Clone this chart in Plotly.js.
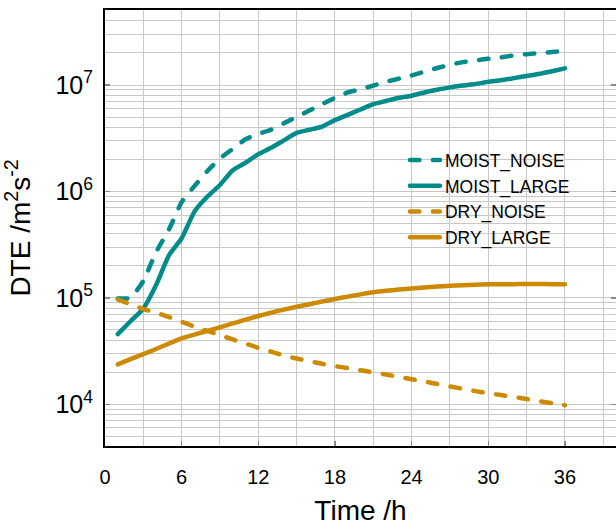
<!DOCTYPE html>
<html>
<head>
<meta charset="utf-8">
<script src="https://cdn.plot.ly/plotly-3.0.1.min.js"></script>
<style>
  html, body { margin: 0; padding: 0; background: #fff; }
  #chart { width: 616px; height: 526px; }
  .scatterlayer .js-line, .legend .js-line { stroke-linecap: round !important; stroke-linejoin: round !important; }
</style>
</head>
<body>
<div id="chart"></div>
<script>
// Forecast lead time (hours)
const hours = [1,2,3,4,5,6,7,8,9,10,11,12,13,14,15,16,17,18,19,20,21,22,23,24,25,26,27,28,29,30,31,32,33,34,35,36];

// Difference total energy, m^2 s^-2
const moistNoise = [98900,100000,144500,269000,437000,794000,1122000,1549000,2040000,2510000,3090000,3470000,
  3800000,4370000,5010000,5750000,6610000,7590000,8510000,9120000,9890000,10720000,11480000,12300000,
  13340000,14450000,15490000,16410000,17060000,17620000,18200000,18970000,19500000,19950000,20420000,20890000];
const moistLarge = [45700,60300,79400,131800,251000,363000,646000,891000,1150000,1580000,1860000,2240000,
  2570000,3020000,3550000,3800000,4070000,4680000,5250000,5890000,6610000,7080000,7590000,7940000,
  8510000,9020000,9510000,9890000,10230000,10720000,11090000,11610000,12160000,12740000,13490000,14350000];
const dryNoise = [96600,87100,78500,72400,66100,59600,53700,49000,44700,40700,37200,33900,
  31300,28700,26900,25400,24000,22800,21900,20900,19950,19050,18100,17200,
  16400,15500,14700,14000,13300,12700,12200,11750,11200,10700,10230,9800];
const dryLarge = [23700,26600,29600,33100,37200,41600,45200,48800,52800,57500,62400,67500,
  72400,77600,82400,87100,92300,97500,102800,107900,112700,116400,119700,122700,
  125300,127600,130000,131500,132700,134000,134300,134600,134900,134900,134600,134300];

const seriesNames = ['MOIST_NOISE', 'MOIST_LARGE', 'DRY_NOISE', 'DRY_LARGE'];
const xTickVals = [0, 6, 12, 18, 24, 30, 36];

const teal = '#008b8b';
const gold = '#cc8a00';
const dashed = '9.5px,13.5px';
const FONT = 'Liberation Sans, Arial, sans-serif';

function trace(name, y, color, dash) {
  return {
    x: hours, y: y, name: name, type: 'scatter', mode: 'lines',
    line: { color: color, width: 4.5, dash: dash, shape: 'spline', smoothing: 0.5 }
  };
}

const data = [
  trace(seriesNames[0], moistNoise, teal, dashed),
  trace(seriesNames[1], moistLarge, teal, 'solid'),
  trace(seriesNames[2], dryNoise, gold, dashed),
  trace(seriesNames[3], dryLarge, gold, 'solid')
];

const gridColor = '#c8c8c8';

const layout = {
  width: 616, height: 526,
  margin: { l: 105, r: 0, t: 10, b: 80 },
  paper_bgcolor: '#fff', plot_bgcolor: '#fff',
  font: { family: FONT, color: '#000' },
  showlegend: true,
  legend: {
    x: 0.587, y: 0.697, xanchor: 'left', yanchor: 'top',
    bgcolor: 'rgba(0,0,0,0)', borderwidth: 0,
    font: { family: FONT, size: 17.5, color: '#000' },
    tracegroupgap: 0
  },
  xaxis: {
    range: [0, 40], tickmode: 'array', tickvals: xTickVals, ticktext: xTickVals.map(String),
    ticks: 'inside', ticklen: 5, tickwidth: 1.5, tickcolor: '#888',
    showline: true, linecolor: '#000', linewidth: 2, mirror: true,
    showgrid: true, gridcolor: gridColor, gridwidth: 1,
    minor: { dtick: 3, showgrid: true, gridcolor: gridColor, gridwidth: 1, ticks: '' },
    zeroline: false,
    tickfont: { family: FONT, size: 20, color: '#000' },
    ticklabelstandoff: 12,
    title: { text: 'Time /h', font: { family: FONT, size: 28, color: '#000' }, standoff: 14 }
  },
  yaxis: {
    type: 'log', range: [3.608, 7.705], dtick: 1, exponentformat: 'power',
    ticks: 'inside', ticklen: 5, tickwidth: 1.5, tickcolor: '#888',
    showline: true, linecolor: '#000', linewidth: 2, mirror: 'ticks',
    showgrid: true, gridcolor: gridColor, gridwidth: 1,
    minor: { dtick: 'D1', showgrid: true, gridcolor: gridColor, gridwidth: 1, ticks: '' },
    zeroline: false,
    tickfont: { family: FONT, size: 20, color: '#000' },
    ticklabelstandoff: 6,
    title: { text: 'DTE /m<sup>2</sup>s<sup>-2</sup>', font: { family: FONT, size: 28, color: '#000' }, standoff: 26 }
  }
};

Plotly.newPlot('chart', data, layout, { displayModeBar: false, staticPlot: true });
</script>
</body>
</html>
